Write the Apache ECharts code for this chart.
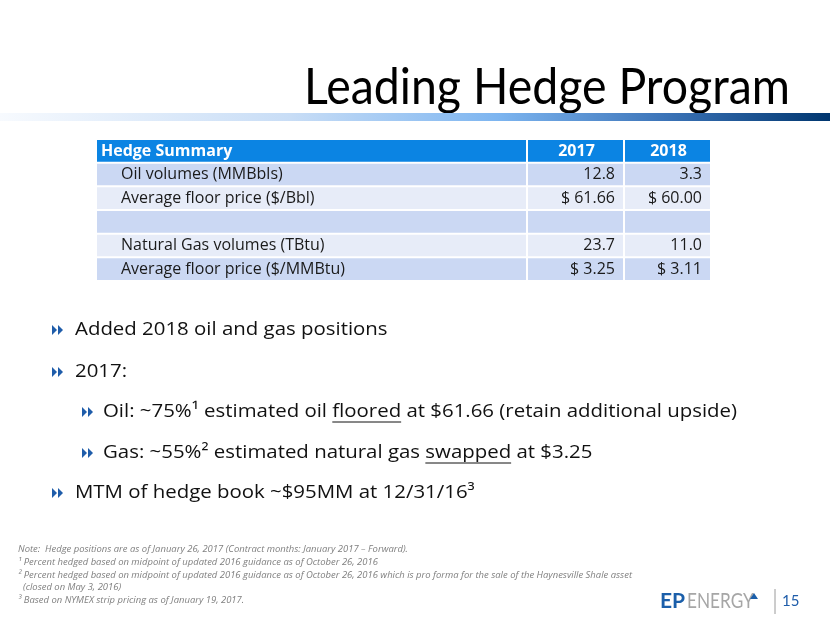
<!DOCTYPE html>
<html>
<head>
<meta charset="utf-8">
<script src="https://cdn.jsdelivr.net/npm/echarts@6/dist/echarts.min.js"></script>
<style>
  html, body { margin: 0; padding: 0; background: #fff; }
  #main { width: 830px; height: 623px; }
</style>
</head>
<body>
<div id="main"></div>
<script>
// ---- data ----
const slideTitle = 'Leading Hedge Program';
const tableTitle = 'Hedge Summary';
const years = ['2017', '2018'];
const rowLabels = ['Oil volumes (MMBbls)', 'Average floor price ($/Bbl)', '', 'Natural Gas volumes (TBtu)', 'Average floor price ($/MMBtu)'];
const values2017 = [12.8, 61.66, null, 23.7, 3.25];
const values2018 = [3.3, 60.00, null, 11.0, 3.11];
const rowIsPrice = [false, true, false, false, true];

const bulletLines = [
  'Added 2018 oil and gas positions',
  '2017:',
  'Oil: ~75%\u00B9 estimated oil floored at $61.66 (retain additional upside)',
  'Gas: ~55%\u00B2 estimated natural gas swapped at $3.25',
  'MTM of hedge book ~$95MM at 12/31/16\u00B3'
];
const bulletLevels = [0, 0, 1, 1, 0];
const underlined = [null, null, 'floored', 'swapped', null];

const footnotes = [
  'Note:  Hedge positions are as of January 26, 2017 (Contract months: January 2017 \u2013 Forward).',
  '\u00B9 Percent hedged based on midpoint of updated 2016 guidance as of October 26, 2016',
  '\u00B2 Percent hedged based on midpoint of updated 2016 guidance as of October 26, 2016 which is pro forma for the sale of the Haynesville Shale asset',
  '(closed on May 3, 2016)',
  '\u00B3 Based on NYMEX strip pricing as of January 19, 2017.'
];
const pageNumber = '15';

// ---- helpers ----
const TITLE_FONT = 'Lato, "Open Sans", sans-serif';
const FONT = '"Open Sans", "Noto Sans", sans-serif';
const ctx = document.createElement('canvas').getContext('2d');
function measure(text, font) {
  ctx.font = font;
  return ctx.measureText(text).width;
}
function fmt(v, price) {
  if (v == null) return '';
  return price ? '$ ' + v.toFixed(2) : v.toFixed(1);
}

const chart = echarts.init(document.getElementById('main'));

// table layout (value space of the hidden x axis)
const colEdges = [0, 431, 528, 615];
const cellData = [];
for (let r = 0; r <= rowLabels.length; r++) {
  for (let c = 0; c < 3; c++) cellData.push([c, r]);
}
const tableFont = '16.5px ' + FONT;
const tableBold = 'bold 16.5px ' + FONT;
const tableScale = 224 / measure(rowLabels[4], tableFont);

function cellText(c, r) {
  if (r === 0) return c === 0 ? tableTitle : years[c - 1];
  if (c === 0) return rowLabels[r - 1];
  const vals = c === 1 ? values2017 : values2018;
  return fmt(vals[r - 1], rowIsPrice[r - 1]);
}

function renderCell(params, api) {
  const c = api.value(0), r = api.value(1);
  const yc = api.coord([0, r])[1];
  const h = api.size([0, 1])[1];
  const x0 = api.coord([colEdges[c], r])[0];
  const x1 = api.coord([colEdges[c + 1], r])[0];
  let fill;
  if (r === 0) fill = '#0B84E3';
  else fill = (r % 2 === 1) ? '#CBD8F3' : '#E7ECF8';
  const txt = cellText(c, r);
  let tx, align;
  if (c === 0) { tx = x0 + (r === 0 ? 4 : 24); align = 'left'; }
  else if (r === 0) { tx = (x0 + x1) / 2; align = 'center'; }
  else { tx = x1 - 10; align = 'right'; }
  return {
    type: 'group',
    children: [
      { type: 'rect', shape: { x: x0, y: yc - h / 2, width: x1 - x0 - 2, height: h - 2 }, style: { fill: fill } },
      {
        type: 'text', x: tx, y: yc - 1, scaleX: tableScale,
        style: {
          text: txt, font: r === 0 ? tableBold : tableFont,
          fill: r === 0 ? '#ffffff' : '#1a1a1a', align: align, verticalAlign: 'middle'
        }
      }
    ]
  };
}

// ---- static slide graphics ----
const graphics = [];

// title
const titleFont = '50px ' + TITLE_FONT;
const titleScale = 486 / measure(slideTitle, titleFont);
graphics.push({
  type: 'text', x: 790, y: 88, scaleX: titleScale,
  style: { text: slideTitle, font: titleFont, fill: '#000', align: 'right', verticalAlign: 'middle' }
});

// gradient band under title
graphics.push({
  type: 'rect', shape: { x: 0, y: 113, width: 830, height: 8 },
  style: {
    fill: new echarts.graphic.LinearGradient(0, 0, 1, 0, [
      { offset: 0, color: '#F7FAFE' },
      { offset: 0.35, color: '#C8DDF6' },
      { offset: 0.6, color: '#7DB5F0' },
      { offset: 0.8, color: '#3C74B8' },
      { offset: 1, color: '#00366F' }
    ])
  }
});

// bullets
const bulletY = [330, 372, 412, 453, 493];
const bulletFont = '19px ' + FONT;
const bulletScale = 634 / measure(bulletLines[2], bulletFont);
function arrow(x, y) {
  return [
    { type: 'polygon', shape: { points: [[x, y - 5], [x + 5, y], [x, y + 5]] }, style: { fill: '#1F5DAA' } },
    { type: 'polygon', shape: { points: [[x + 6, y - 5], [x + 11, y], [x + 6, y + 5]] }, style: { fill: '#1F5DAA' } }
  ];
}
bulletLines.forEach(function (line, i) {
  const tx = bulletLevels[i] === 0 ? 75 : 103;
  const ax = bulletLevels[i] === 0 ? 52 : 82;
  const y = bulletY[i];
  arrow(ax, y).forEach(function (p) { graphics.push(p); });
  graphics.push({
    type: 'text', x: tx, y: y, scaleX: bulletScale,
    style: { text: line, font: bulletFont, fill: '#111', align: 'left', verticalAlign: 'middle' }
  });
  if (underlined[i]) {
    const pre = line.slice(0, line.indexOf(underlined[i]));
    const ux = tx + measure(pre, bulletFont) * bulletScale;
    const uw = measure(underlined[i], bulletFont) * bulletScale;
    graphics.push({
      type: 'line', shape: { x1: ux, y1: y + 10, x2: ux + uw, y2: y + 10 },
      style: { stroke: '#111', lineWidth: 1 }
    });
  }
});

// footnotes
const noteY = [549, 562, 575, 587, 600];
const noteFont = 'italic 9.5px ' + FONT;
const noteScale = (632 - 18) / measure(footnotes[2], noteFont);
footnotes.forEach(function (t, i) {
  graphics.push({
    type: 'text', x: i === 3 ? 23 : 18, y: noteY[i], scaleX: noteScale,
    style: { text: t, font: noteFont, fill: '#808080', align: 'left', verticalAlign: 'middle' }
  });
});

// logo + page number
graphics.push({
  type: 'text', x: 660, y: 601,
  style: { text: 'EP', font: 'bold 21px ' + TITLE_FONT, fill: '#1B5FAA', align: 'left', verticalAlign: 'middle' }
});
graphics.push({
  type: 'text', x: 687, y: 601, scaleX: 0.82,
  style: { text: 'ENERGY', font: '21px ' + TITLE_FONT, fill: '#A6A6A6', align: 'left', verticalAlign: 'middle' }
});
graphics.push({
  type: 'polygon', shape: { points: [[750, 599], [754, 593], [758, 599]] }, style: { fill: '#1B5FAA' }
});
graphics.push({
  type: 'line', shape: { x1: 775, y1: 589, x2: 775, y2: 614 }, style: { stroke: '#9A9A9A', lineWidth: 1 }
});
graphics.push({
  type: 'text', x: 782, y: 601,
  style: { text: pageNumber, font: '15px ' + TITLE_FONT, fill: '#1F5DAA', align: 'left', verticalAlign: 'middle' }
});

const option = {
  backgroundColor: '#ffffff',
  animation: false,
  grid: { left: 97, top: 140, width: 615, height: 142 },
  xAxis: { type: 'value', min: 0, max: 615, show: false },
  yAxis: { type: 'category', inverse: true, show: false, data: [tableTitle].concat(rowLabels) },
  series: [{
    type: 'custom',
    renderItem: renderCell,
    data: cellData,
    silent: true
  }],
  graphic: graphics
};

option && chart.setOption(option);
</script>
</body>
</html>
